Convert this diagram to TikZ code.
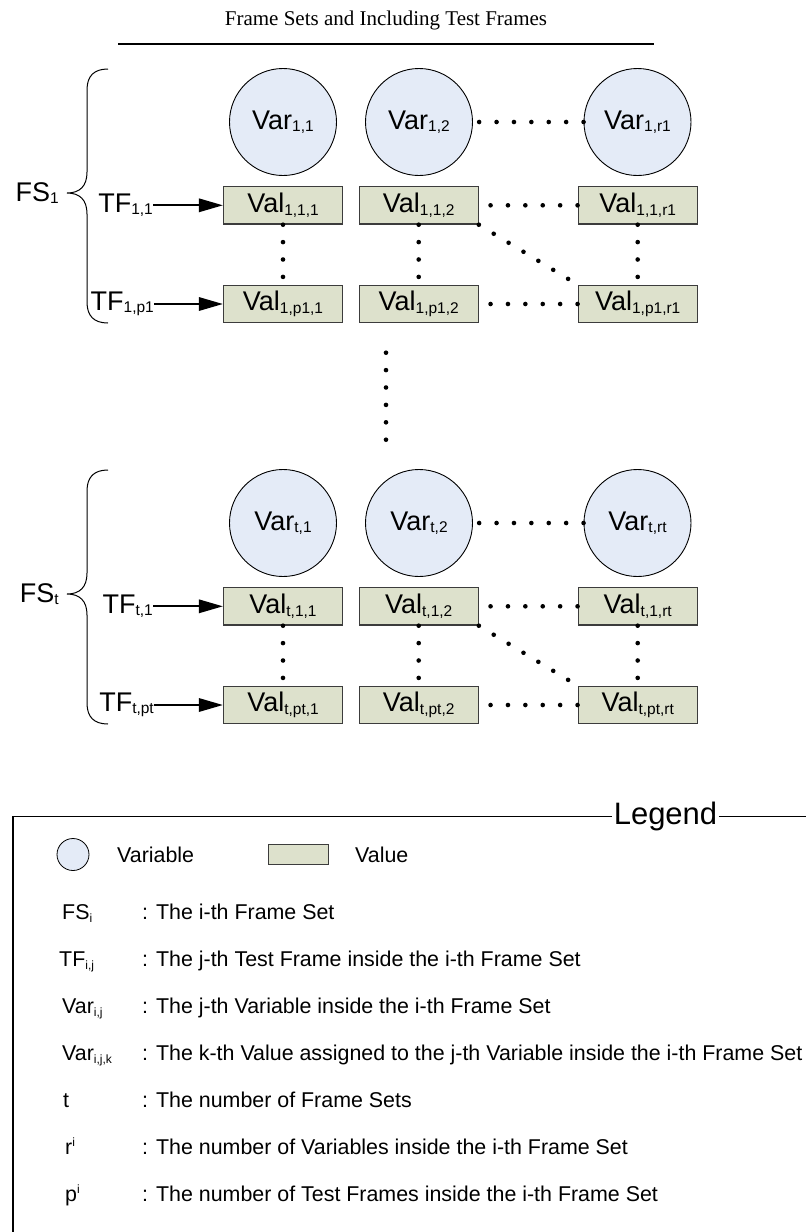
\documentclass[tikz,border=0pt]{standalone}
\usepackage{fontspec}
\setmainfont{Liberation Sans}
\newfontfamily\titlefont{Liberation Serif}
\usetikzlibrary{arrows.meta}

\definecolor{varfill}{RGB}{228,235,247}
\definecolor{valfill}{RGB}{221,225,204}
\definecolor{valline}{RGB}{60,60,60}

% index helpers
\newcommand\lo[1]{\raisebox{-2.5pt}{\fontsize{15.5}{15.5}\selectfont #1}}
\newcommand\llo[1]{\raisebox{-2.5pt}{\fontsize{12}{12}\selectfont #1}}
\newcommand\lhi[1]{\raisebox{8pt}{\fontsize{12}{12}\selectfont #1}}
\newcommand\bigfont{\fontsize{27}{31}\selectfont}

\tikzset{
  var/.style={circle, draw=black, line width=0.9pt, fill=varfill,
    minimum size=107pt, inner sep=0pt, font=\bigfont},
  val/.style={rectangle, draw=valline, line width=1.3pt, fill=valfill,
    minimum width=119pt, minimum height=37.5pt, inner sep=0pt, font=\bigfont},
  tf/.style={font=\bigfont, inner sep=0pt, anchor=east},
  fs/.style={font=\bigfont, inner sep=0pt, anchor=east},
  dotline/.style={line width=4.6pt, line cap=round, dash pattern=on 0pt off 17.4pt},
  arr/.style={line width=1.7pt, -{Triangle[length=24pt,width=13.5pt]}},
  brace/.style={draw, line width=1pt},
  lgtxt/.style={font=\fontsize{21.4}{25}\selectfont, inner sep=0pt},
  lgtitle/.style={font=\fontsize{31}{36}\selectfont, inner sep=1.5pt},
  lgframe/.style={line width=1.1pt},
}

% one frame set: #1 name prefix, #2 vertical offset, #3 set index,
% #4 last test frame index, #5 last variable index
\newcommand\framegroup[5]{%
\begin{scope}[shift={(0,#2)}]
  \node[var] (#1c1) at (283,122)   {Var\lo{#3,1}};
  \node[var] (#1c2) at (419,122)   {Var\lo{#3,2}};
  \node[var] (#1cr) at (637.5,122) {Var\lo{#3,#5}};
  \node[val] (#1a1) at (283,205.3)   {Val\lo{#3,1,1}};
  \node[val] (#1a2) at (418.7,205.3) {Val\lo{#3,1,2}};
  \node[val] (#1ar) at (637.7,205.3) {Val\lo{#3,1,#5}};
  \node[val] (#1b1) at (283,304)   {Val\lo{#3,#4,1}};
  \node[val] (#1b2) at (418.7,304) {Val\lo{#3,#4,2}};
  \node[val] (#1br) at (637.7,304) {Val\lo{#3,#4,#5}};
  \node[tf] (#1t1) at (153,205.3) {TF\lo{#3,1}};
  \node[tf] (#1tp) at (154,304)   {TF\lo{#3,#4}};
  \node[fs] (#1fs) at (59,193)    {FS\lo{#3}};
  \draw[arr] (#1t1) -- (#1a1);
  \draw[arr] (#1tp) -- (#1b1);
  \draw[dotline] (#1cr) -- (#1c2);
  \draw[dotline] (#1ar) -- (#1a2);
  \draw[dotline] (#1br) -- (#1b2);
  \draw[dotline] (#1a1) -- (#1b1);
  \draw[dotline] (#1a2) -- (#1b2);
  \draw[dotline] (#1ar) -- (#1br);
  \draw[dotline] (#1a2.south east) -- (#1br.north west);
  \draw[brace] (108,69) .. controls (94,69) and (87,76) .. (87,90)
    -- (87,172) .. controls (87,186) and (80,193) .. (67,193)
    .. controls (80,193) and (87,200) .. (87,214)
    -- (87,302) .. controls (87,316) and (94,323) .. (108,323);
\end{scope}}

\begin{document}
\begin{tikzpicture}[x=1pt,y=-1pt]
\useasboundingbox (0,0) rectangle (806,1232);

% heading
\node[font=\titlefont\fontsize{21}{25}\selectfont, anchor=base, inner sep=0pt]
  (title) at (386,25) {Frame Sets and Including Test Frames};
\draw[line width=2pt] (118,43.5) -- (654,43.5);

% the first and the last frame set
\framegroup{A}{0}{1}{p1}{r1}
\framegroup{B}{401}{t}{pt}{rt}

% frame sets in between
\coordinate (gapTop) at (386,352.7);
\coordinate (gapBot) at (386,440.5);
\draw[dotline] (gapTop) -- (gapBot);

% legend frame
\node[lgtitle] (lgd) at (665.5,816.5) {Legend};
\coordinate (lgTL) at (13,816.5);
\coordinate (lgBL) at (13,1232);
\coordinate (lgTR) at (806,816.5);
\draw[lgframe] (lgd.west) -- (lgTL) -- (lgBL);
\draw[lgframe] (lgd.east) -- (lgTR);

% legend symbols
\node[var, minimum size=32pt, line width=0.8pt] (lgVar) at (73,854.5) {};
\node[lgtxt, anchor=west] (lgVarT) at (117,854.5) {Variable};
\node[val, minimum width=59.5pt, minimum height=20pt, line width=1pt] (lgVal) at (298.3,854) {};
\node[lgtxt, anchor=west] (lgValT) at (355,854.5) {Value};

% legend notation
\node[lgtxt, anchor=base west] (kFS) at (62,919.5) {FS\llo{i}};
\node[lgtxt, anchor=base west] (dFS) at (142,919.5) {: The i-th Frame Set};
\node[lgtxt, anchor=base west] (kTF) at (59,966.5) {TF\llo{i,j}};
\node[lgtxt, anchor=base west] (dTF) at (142,966.5) {: The j-th Test Frame inside the i-th Frame Set};
\node[lgtxt, anchor=base west] (kVar) at (62,1013.5) {Var\llo{i,j}};
\node[lgtxt, anchor=base west] (dVar) at (142,1013.5) {: The j-th Variable inside the i-th Frame Set};
\node[lgtxt, anchor=base west] (kVal) at (62,1060.5) {Var\llo{i,j,k}};
\node[lgtxt, anchor=base west] (dVal) at (142,1060.5) {: The k-th Value assigned to the j-th Variable inside the i-th Frame Set};
\node[lgtxt, anchor=base west] (kT) at (63,1107.5) {t};
\node[lgtxt, anchor=base west] (dT) at (142,1107.5) {: The number of Frame Sets};
\node[lgtxt, anchor=base west] (kR) at (65,1154.5) {r\lhi{i}};
\node[lgtxt, anchor=base west] (dR) at (142,1154.5) {: The number of Variables inside the i-th Frame Set};
\node[lgtxt, anchor=base west] (kP) at (65,1201.5) {p\lhi{i}};
\node[lgtxt, anchor=base west] (dP) at (142,1201.5) {: The number of Test Frames inside the i-th Frame Set};
\end{tikzpicture}
\end{document}
